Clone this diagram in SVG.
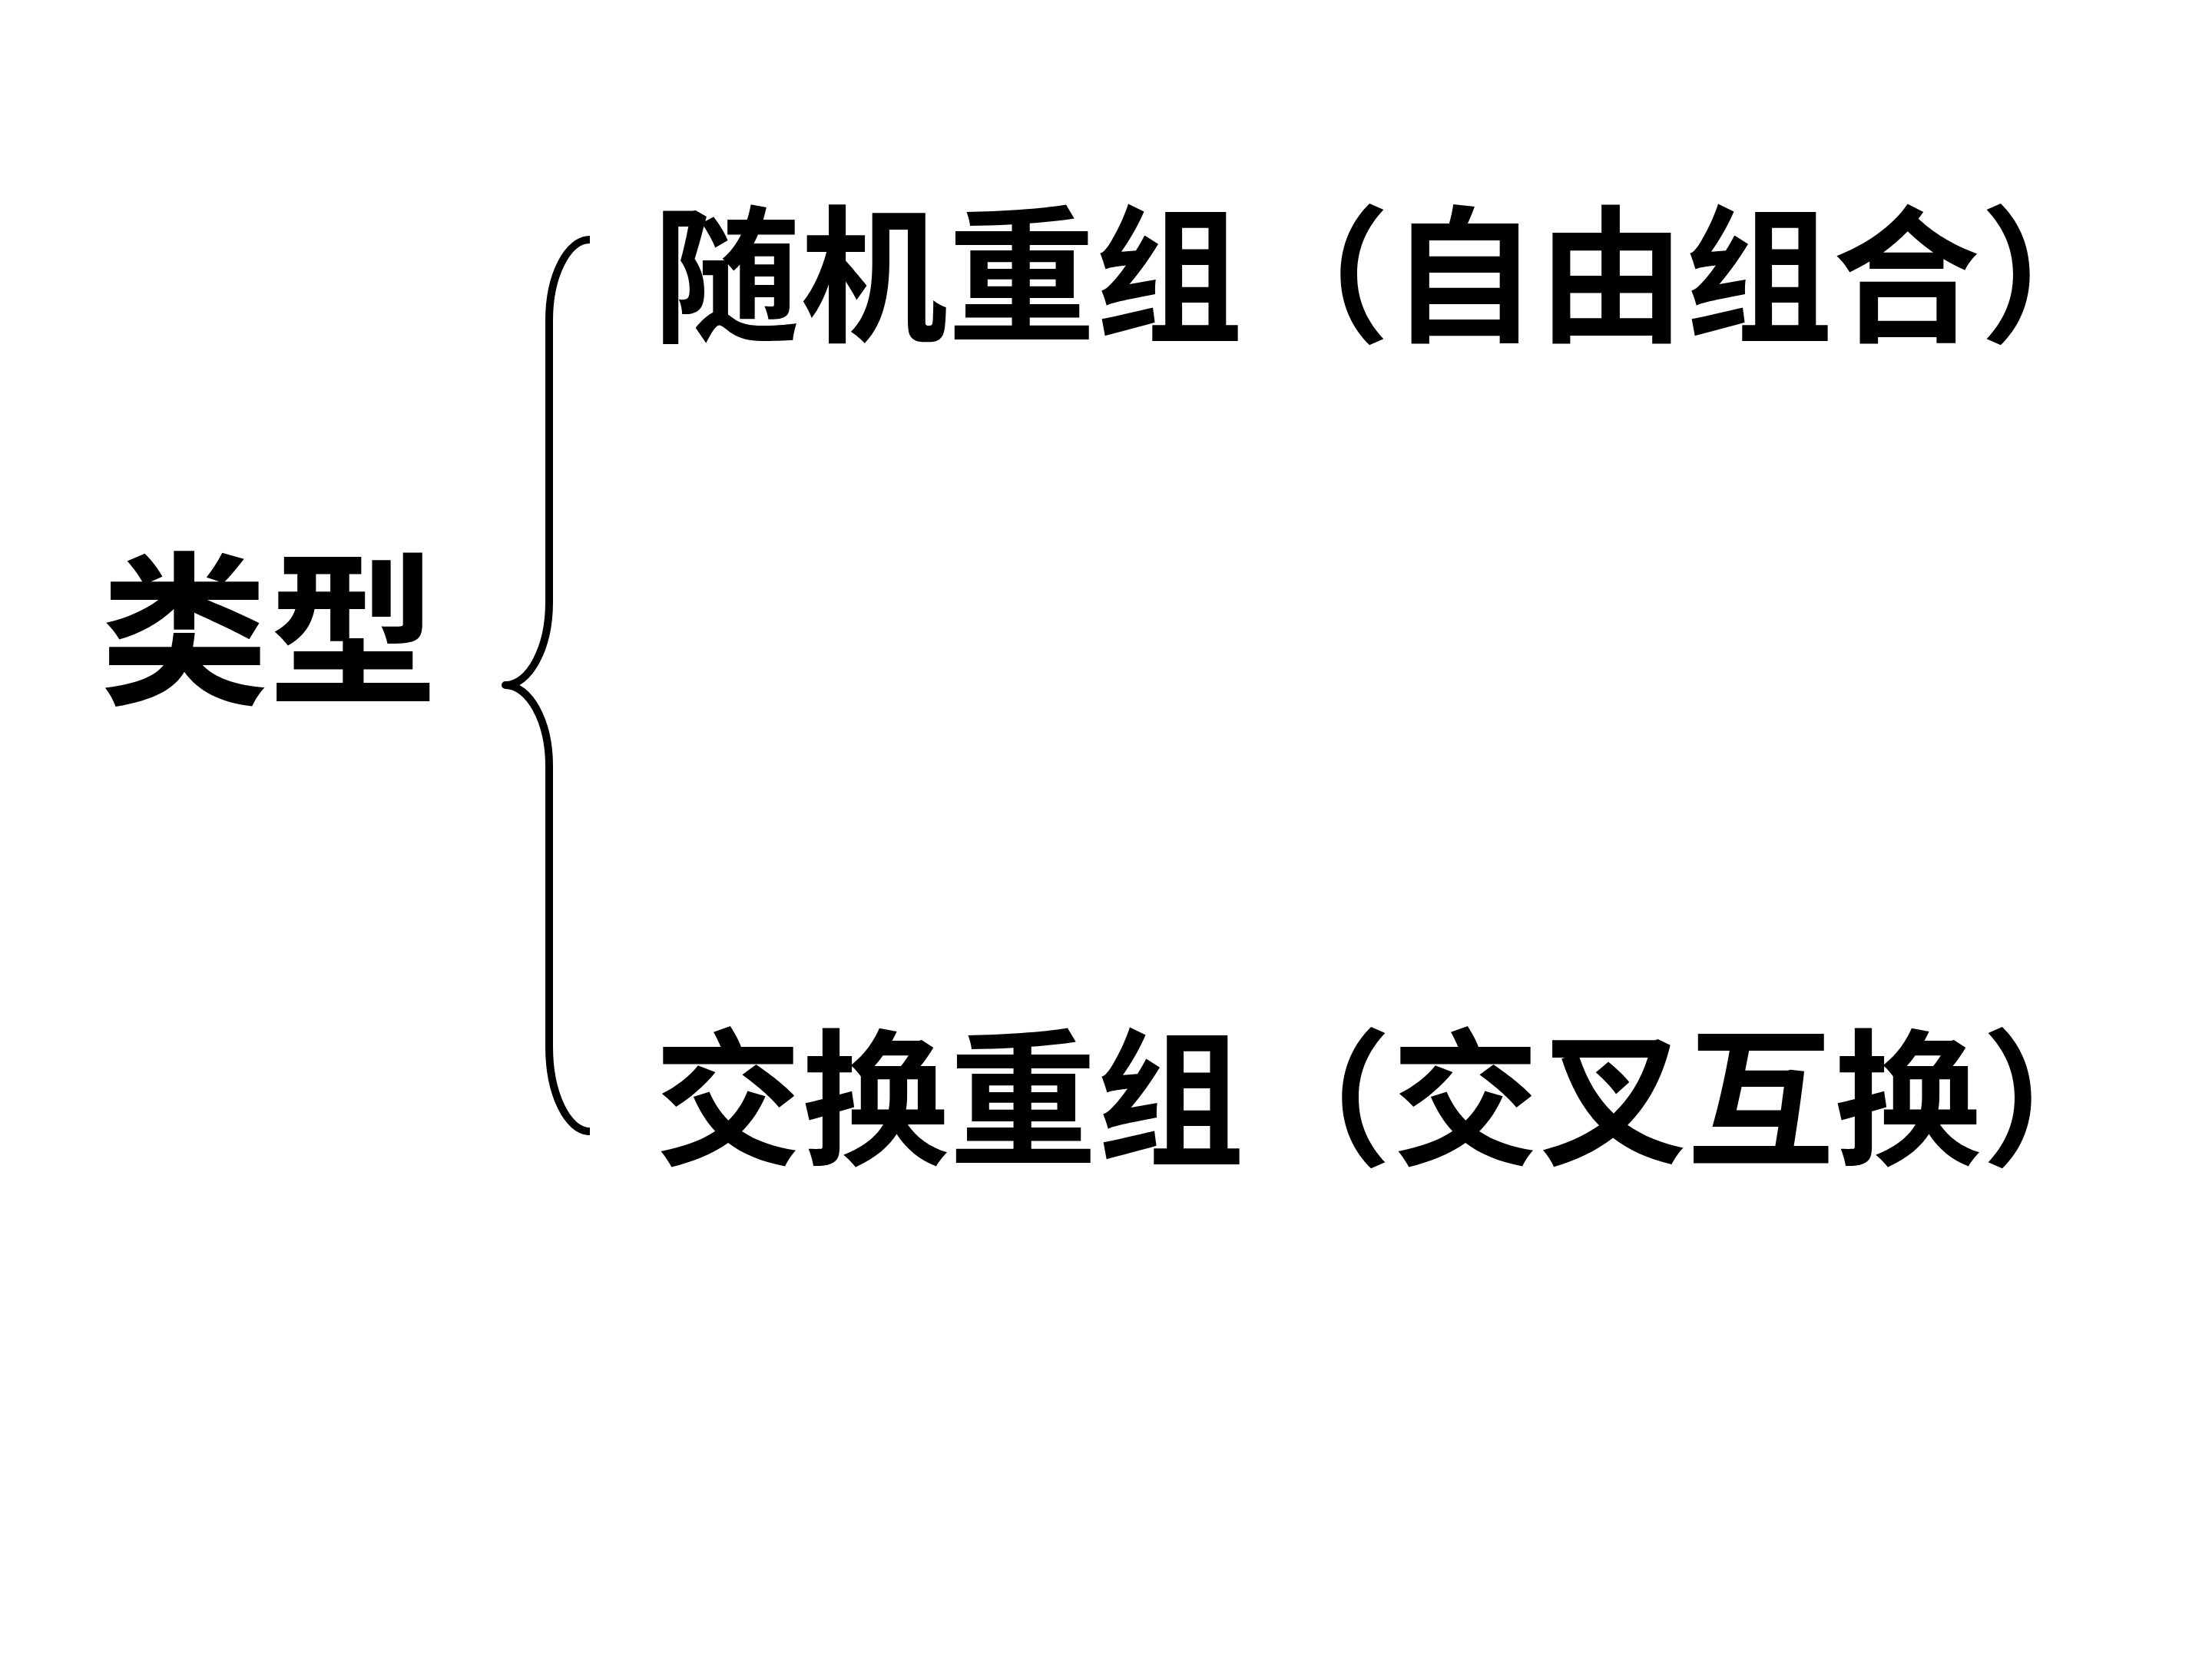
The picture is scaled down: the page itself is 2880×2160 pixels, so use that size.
<svg xmlns="http://www.w3.org/2000/svg" width="2880" height="2160" viewBox="0 0 2880 2160">
<style>
.t{font-family:"Noto Sans CJK SC","Noto Sans CJK TC",sans-serif;font-weight:700;fill:#000}
.b{fill:none;stroke:#000;stroke-width:10;stroke-linejoin:round;stroke-linecap:butt}
</style>
<rect width="2880" height="2160" fill="#fff"/>
<g id="root"><text class="t" x="130" y="900" font-size="215" textLength="440" lengthAdjust="spacingAndGlyphs">类型</text></g>
<g id="connectors">
<path class="b" d="M768,312 C739,312 715,359 715,417 L715,784 C715,844 689,892 658,892 C689,892 715,939 715,997 L715,1363 C715,1424 739,1473 768,1473"/>
</g>
<g id="n1"><text class="t" x="850" y="430" font-size="192" textLength="1920" lengthAdjust="spacingAndGlyphs">随机重组（自由组合）</text></g>
<g id="n2"><text class="t" x="852" y="1502" font-size="192" textLength="1920" lengthAdjust="spacingAndGlyphs">交换重组（交叉互换）</text></g>
</svg>
